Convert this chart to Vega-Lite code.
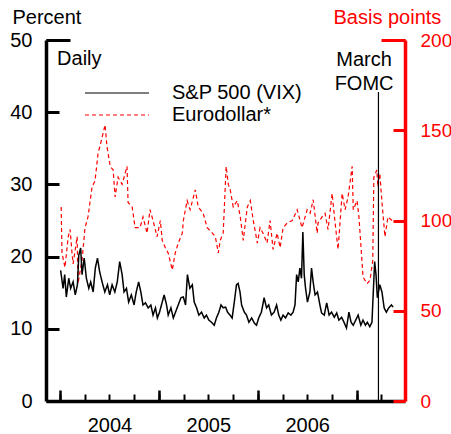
{
  "$schema": "https://vega.github.io/schema/vega-lite/v6.json",
  "width": 359,
  "height": 361,
  "autosize": {"type": "none"},
  "padding": {"left": 46, "top": 40, "right": 46, "bottom": 33},
  "config": {
    "view": {"stroke": null},
    "font": "Liberation Sans",
    "axis": {"grid": false, "labelFont": "Liberation Sans", "labelFontSize": 20, "titleFont": "Liberation Sans", "titleFontSize": 20, "titleFontWeight": "normal"},
    "legend": {"labelFont": "Liberation Sans"}
  },
  "datasets": {
    "series": [
      {"d": "2004-01-05", "s": "Eurodollar*", "v": 107.5},
      {"d": "2004-01-08", "s": "Eurodollar*", "v": 82},
      {"d": "2004-01-19", "s": "Eurodollar*", "v": 74},
      {"d": "2004-01-31", "s": "Eurodollar*", "v": 91},
      {"d": "2004-02-07", "s": "Eurodollar*", "v": 95},
      {"d": "2004-02-14", "s": "Eurodollar*", "v": 82},
      {"d": "2004-02-18", "s": "Eurodollar*", "v": 76},
      {"d": "2004-03-04", "s": "Eurodollar*", "v": 91},
      {"d": "2004-03-07", "s": "Eurodollar*", "v": 65},
      {"d": "2004-03-22", "s": "Eurodollar*", "v": 78},
      {"d": "2004-04-02", "s": "Eurodollar*", "v": 96},
      {"d": "2004-04-13", "s": "Eurodollar*", "v": 102},
      {"d": "2004-04-28", "s": "Eurodollar*", "v": 118.6},
      {"d": "2004-05-09", "s": "Eurodollar*", "v": 122},
      {"d": "2004-05-20", "s": "Eurodollar*", "v": 137},
      {"d": "2004-06-04", "s": "Eurodollar*", "v": 146},
      {"d": "2004-06-15", "s": "Eurodollar*", "v": 153},
      {"d": "2004-06-22", "s": "Eurodollar*", "v": 141},
      {"d": "2004-07-04", "s": "Eurodollar*", "v": 130},
      {"d": "2004-07-15", "s": "Eurodollar*", "v": 128},
      {"d": "2004-07-22", "s": "Eurodollar*", "v": 113},
      {"d": "2004-08-02", "s": "Eurodollar*", "v": 124},
      {"d": "2004-08-17", "s": "Eurodollar*", "v": 120},
      {"d": "2004-09-04", "s": "Eurodollar*", "v": 130},
      {"d": "2004-09-08", "s": "Eurodollar*", "v": 110},
      {"d": "2004-09-23", "s": "Eurodollar*", "v": 107.5},
      {"d": "2004-10-04", "s": "Eurodollar*", "v": 96},
      {"d": "2004-10-22", "s": "Eurodollar*", "v": 96},
      {"d": "2004-11-02", "s": "Eurodollar*", "v": 102},
      {"d": "2004-11-17", "s": "Eurodollar*", "v": 93},
      {"d": "2004-11-28", "s": "Eurodollar*", "v": 106},
      {"d": "2004-12-09", "s": "Eurodollar*", "v": 100},
      {"d": "2004-12-24", "s": "Eurodollar*", "v": 91},
      {"d": "2005-01-05", "s": "Eurodollar*", "v": 100},
      {"d": "2005-01-12", "s": "Eurodollar*", "v": 89},
      {"d": "2005-01-23", "s": "Eurodollar*", "v": 85},
      {"d": "2005-02-03", "s": "Eurodollar*", "v": 82},
      {"d": "2005-02-18", "s": "Eurodollar*", "v": 72.6},
      {"d": "2005-03-01", "s": "Eurodollar*", "v": 82},
      {"d": "2005-03-12", "s": "Eurodollar*", "v": 87.5},
      {"d": "2005-03-27", "s": "Eurodollar*", "v": 93},
      {"d": "2005-03-31", "s": "Eurodollar*", "v": 100},
      {"d": "2005-04-14", "s": "Eurodollar*", "v": 111},
      {"d": "2005-04-25", "s": "Eurodollar*", "v": 106},
      {"d": "2005-05-14", "s": "Eurodollar*", "v": 117},
      {"d": "2005-05-25", "s": "Eurodollar*", "v": 107.5},
      {"d": "2005-06-12", "s": "Eurodollar*", "v": 104},
      {"d": "2005-06-27", "s": "Eurodollar*", "v": 96},
      {"d": "2005-07-16", "s": "Eurodollar*", "v": 93},
      {"d": "2005-07-27", "s": "Eurodollar*", "v": 91},
      {"d": "2005-08-07", "s": "Eurodollar*", "v": 82},
      {"d": "2005-08-14", "s": "Eurodollar*", "v": 89},
      {"d": "2005-08-25", "s": "Eurodollar*", "v": 93},
      {"d": "2005-09-05", "s": "Eurodollar*", "v": 130},
      {"d": "2005-09-13", "s": "Eurodollar*", "v": 120},
      {"d": "2005-09-20", "s": "Eurodollar*", "v": 117},
      {"d": "2005-10-01", "s": "Eurodollar*", "v": 107.5},
      {"d": "2005-10-16", "s": "Eurodollar*", "v": 111},
      {"d": "2005-10-27", "s": "Eurodollar*", "v": 102},
      {"d": "2005-11-07", "s": "Eurodollar*", "v": 89},
      {"d": "2005-11-22", "s": "Eurodollar*", "v": 107.5},
      {"d": "2005-12-03", "s": "Eurodollar*", "v": 111},
      {"d": "2005-12-14", "s": "Eurodollar*", "v": 100},
      {"d": "2005-12-29", "s": "Eurodollar*", "v": 87.5},
      {"d": "2006-01-08", "s": "Eurodollar*", "v": 96},
      {"d": "2006-01-19", "s": "Eurodollar*", "v": 93},
      {"d": "2006-02-03", "s": "Eurodollar*", "v": 87.5},
      {"d": "2006-02-14", "s": "Eurodollar*", "v": 100},
      {"d": "2006-02-25", "s": "Eurodollar*", "v": 84},
      {"d": "2006-03-12", "s": "Eurodollar*", "v": 93},
      {"d": "2006-03-23", "s": "Eurodollar*", "v": 85},
      {"d": "2006-04-03", "s": "Eurodollar*", "v": 96},
      {"d": "2006-04-18", "s": "Eurodollar*", "v": 98.6},
      {"d": "2006-05-07", "s": "Eurodollar*", "v": 100},
      {"d": "2006-05-25", "s": "Eurodollar*", "v": 106},
      {"d": "2006-06-12", "s": "Eurodollar*", "v": 96},
      {"d": "2006-07-01", "s": "Eurodollar*", "v": 106},
      {"d": "2006-07-12", "s": "Eurodollar*", "v": 104},
      {"d": "2006-07-23", "s": "Eurodollar*", "v": 111.5},
      {"d": "2006-08-07", "s": "Eurodollar*", "v": 93},
      {"d": "2006-08-10", "s": "Eurodollar*", "v": 98.6},
      {"d": "2006-08-25", "s": "Eurodollar*", "v": 102},
      {"d": "2006-09-05", "s": "Eurodollar*", "v": 104},
      {"d": "2006-09-16", "s": "Eurodollar*", "v": 95},
      {"d": "2006-10-01", "s": "Eurodollar*", "v": 115},
      {"d": "2006-10-12", "s": "Eurodollar*", "v": 98.6},
      {"d": "2006-10-23", "s": "Eurodollar*", "v": 84},
      {"d": "2006-11-07", "s": "Eurodollar*", "v": 115},
      {"d": "2006-11-18", "s": "Eurodollar*", "v": 106},
      {"d": "2006-11-29", "s": "Eurodollar*", "v": 113},
      {"d": "2006-12-14", "s": "Eurodollar*", "v": 130},
      {"d": "2006-12-18", "s": "Eurodollar*", "v": 106},
      {"d": "2007-01-01", "s": "Eurodollar*", "v": 111},
      {"d": "2007-01-08", "s": "Eurodollar*", "v": 102},
      {"d": "2007-01-19", "s": "Eurodollar*", "v": 78},
      {"d": "2007-01-23", "s": "Eurodollar*", "v": 68.7},
      {"d": "2007-02-07", "s": "Eurodollar*", "v": 65},
      {"d": "2007-02-18", "s": "Eurodollar*", "v": 67},
      {"d": "2007-02-28", "s": "Eurodollar*", "v": 78},
      {"d": "2007-03-04", "s": "Eurodollar*", "v": 124},
      {"d": "2007-03-15", "s": "Eurodollar*", "v": 128},
      {"d": "2007-03-19", "s": "Eurodollar*", "v": 118.6},
      {"d": "2007-03-26", "s": "Eurodollar*", "v": 126},
      {"d": "2007-04-03", "s": "Eurodollar*", "v": 110},
      {"d": "2007-04-14", "s": "Eurodollar*", "v": 91},
      {"d": "2007-04-25", "s": "Eurodollar*", "v": 102},
      {"d": "2007-05-10", "s": "Eurodollar*", "v": 100},
      {"d": "2004-01-03", "s": "S&P 500 (VIX)", "v": 18.1},
      {"d": "2004-01-12", "s": "S&P 500 (VIX)", "v": 15.6},
      {"d": "2004-01-18", "s": "S&P 500 (VIX)", "v": 17.5},
      {"d": "2004-01-24", "s": "S&P 500 (VIX)", "v": 14.4},
      {"d": "2004-02-02", "s": "S&P 500 (VIX)", "v": 17.0},
      {"d": "2004-02-09", "s": "S&P 500 (VIX)", "v": 15.6},
      {"d": "2004-02-18", "s": "S&P 500 (VIX)", "v": 16.5},
      {"d": "2004-02-26", "s": "S&P 500 (VIX)", "v": 14.7},
      {"d": "2004-03-05", "s": "S&P 500 (VIX)", "v": 16.1},
      {"d": "2004-03-10", "s": "S&P 500 (VIX)", "v": 20.2},
      {"d": "2004-03-17", "s": "S&P 500 (VIX)", "v": 21.2},
      {"d": "2004-03-22", "s": "S&P 500 (VIX)", "v": 17.5},
      {"d": "2004-03-30", "s": "S&P 500 (VIX)", "v": 19.8},
      {"d": "2004-04-07", "s": "S&P 500 (VIX)", "v": 17.0},
      {"d": "2004-04-16", "s": "S&P 500 (VIX)", "v": 15.6},
      {"d": "2004-04-23", "s": "S&P 500 (VIX)", "v": 16.5},
      {"d": "2004-05-02", "s": "S&P 500 (VIX)", "v": 15.1},
      {"d": "2004-05-10", "s": "S&P 500 (VIX)", "v": 18.4},
      {"d": "2004-05-18", "s": "S&P 500 (VIX)", "v": 19.8},
      {"d": "2004-05-26", "s": "S&P 500 (VIX)", "v": 17.9},
      {"d": "2004-06-04", "s": "S&P 500 (VIX)", "v": 16.5},
      {"d": "2004-06-14", "s": "S&P 500 (VIX)", "v": 15.1},
      {"d": "2004-06-24", "s": "S&P 500 (VIX)", "v": 16.1},
      {"d": "2004-07-02", "s": "S&P 500 (VIX)", "v": 14.7},
      {"d": "2004-07-11", "s": "S&P 500 (VIX)", "v": 16.1},
      {"d": "2004-07-21", "s": "S&P 500 (VIX)", "v": 15.1},
      {"d": "2004-07-30", "s": "S&P 500 (VIX)", "v": 16.5},
      {"d": "2004-08-08", "s": "S&P 500 (VIX)", "v": 19.3},
      {"d": "2004-08-17", "s": "S&P 500 (VIX)", "v": 17.5},
      {"d": "2004-08-24", "s": "S&P 500 (VIX)", "v": 15.1},
      {"d": "2004-09-02", "s": "S&P 500 (VIX)", "v": 15.6},
      {"d": "2004-09-10", "s": "S&P 500 (VIX)", "v": 13.7},
      {"d": "2004-09-20", "s": "S&P 500 (VIX)", "v": 14.7},
      {"d": "2004-09-30", "s": "S&P 500 (VIX)", "v": 13.3},
      {"d": "2004-10-08", "s": "S&P 500 (VIX)", "v": 15.1},
      {"d": "2004-10-17", "s": "S&P 500 (VIX)", "v": 16.5},
      {"d": "2004-10-25", "s": "S&P 500 (VIX)", "v": 15.1},
      {"d": "2004-11-02", "s": "S&P 500 (VIX)", "v": 13.3},
      {"d": "2004-11-11", "s": "S&P 500 (VIX)", "v": 13.6},
      {"d": "2004-11-21", "s": "S&P 500 (VIX)", "v": 12.9},
      {"d": "2004-12-01", "s": "S&P 500 (VIX)", "v": 13.3},
      {"d": "2004-12-09", "s": "S&P 500 (VIX)", "v": 11.9},
      {"d": "2004-12-18", "s": "S&P 500 (VIX)", "v": 12.9},
      {"d": "2004-12-25", "s": "S&P 500 (VIX)", "v": 11.5},
      {"d": "2005-01-02", "s": "S&P 500 (VIX)", "v": 12.3},
      {"d": "2005-01-12", "s": "S&P 500 (VIX)", "v": 13.7},
      {"d": "2005-01-19", "s": "S&P 500 (VIX)", "v": 14.7},
      {"d": "2005-01-28", "s": "S&P 500 (VIX)", "v": 13.3},
      {"d": "2005-02-03", "s": "S&P 500 (VIX)", "v": 11.9},
      {"d": "2005-02-13", "s": "S&P 500 (VIX)", "v": 12.9},
      {"d": "2005-02-22", "s": "S&P 500 (VIX)", "v": 11.5},
      {"d": "2005-03-02", "s": "S&P 500 (VIX)", "v": 12.3},
      {"d": "2005-03-12", "s": "S&P 500 (VIX)", "v": 13.3},
      {"d": "2005-03-22", "s": "S&P 500 (VIX)", "v": 14.3},
      {"d": "2005-03-31", "s": "S&P 500 (VIX)", "v": 14.4},
      {"d": "2005-04-08", "s": "S&P 500 (VIX)", "v": 13.3},
      {"d": "2005-04-15", "s": "S&P 500 (VIX)", "v": 17.5},
      {"d": "2005-04-24", "s": "S&P 500 (VIX)", "v": 15.6},
      {"d": "2005-05-03", "s": "S&P 500 (VIX)", "v": 16.1},
      {"d": "2005-05-10", "s": "S&P 500 (VIX)", "v": 13.7},
      {"d": "2005-05-19", "s": "S&P 500 (VIX)", "v": 12.9},
      {"d": "2005-05-27", "s": "S&P 500 (VIX)", "v": 11.9},
      {"d": "2005-06-06", "s": "S&P 500 (VIX)", "v": 12.3},
      {"d": "2005-06-16", "s": "S&P 500 (VIX)", "v": 11.5},
      {"d": "2005-06-24", "s": "S&P 500 (VIX)", "v": 11.9},
      {"d": "2005-07-03", "s": "S&P 500 (VIX)", "v": 11.2},
      {"d": "2005-07-13", "s": "S&P 500 (VIX)", "v": 10.9},
      {"d": "2005-07-23", "s": "S&P 500 (VIX)", "v": 10.5},
      {"d": "2005-07-31", "s": "S&P 500 (VIX)", "v": 11.5},
      {"d": "2005-08-09", "s": "S&P 500 (VIX)", "v": 12.3},
      {"d": "2005-08-17", "s": "S&P 500 (VIX)", "v": 13.3},
      {"d": "2005-08-25", "s": "S&P 500 (VIX)", "v": 12.9},
      {"d": "2005-09-03", "s": "S&P 500 (VIX)", "v": 13.0},
      {"d": "2005-09-10", "s": "S&P 500 (VIX)", "v": 12.3},
      {"d": "2005-09-19", "s": "S&P 500 (VIX)", "v": 11.9},
      {"d": "2005-09-27", "s": "S&P 500 (VIX)", "v": 11.5},
      {"d": "2005-10-05", "s": "S&P 500 (VIX)", "v": 13.7},
      {"d": "2005-10-13", "s": "S&P 500 (VIX)", "v": 16.1},
      {"d": "2005-10-19", "s": "S&P 500 (VIX)", "v": 16.3},
      {"d": "2005-10-26", "s": "S&P 500 (VIX)", "v": 15.1},
      {"d": "2005-11-01", "s": "S&P 500 (VIX)", "v": 13.3},
      {"d": "2005-11-11", "s": "S&P 500 (VIX)", "v": 12.3},
      {"d": "2005-11-19", "s": "S&P 500 (VIX)", "v": 11.9},
      {"d": "2005-11-28", "s": "S&P 500 (VIX)", "v": 10.9},
      {"d": "2005-12-08", "s": "S&P 500 (VIX)", "v": 11.5},
      {"d": "2005-12-18", "s": "S&P 500 (VIX)", "v": 10.8},
      {"d": "2005-12-26", "s": "S&P 500 (VIX)", "v": 10.5},
      {"d": "2006-01-03", "s": "S&P 500 (VIX)", "v": 11.5},
      {"d": "2006-01-13", "s": "S&P 500 (VIX)", "v": 12.3},
      {"d": "2006-01-23", "s": "S&P 500 (VIX)", "v": 14.3},
      {"d": "2006-02-01", "s": "S&P 500 (VIX)", "v": 12.9},
      {"d": "2006-02-09", "s": "S&P 500 (VIX)", "v": 13.3},
      {"d": "2006-02-19", "s": "S&P 500 (VIX)", "v": 11.9},
      {"d": "2006-03-01", "s": "S&P 500 (VIX)", "v": 12.3},
      {"d": "2006-03-10", "s": "S&P 500 (VIX)", "v": 13.3},
      {"d": "2006-03-18", "s": "S&P 500 (VIX)", "v": 11.9},
      {"d": "2006-03-26", "s": "S&P 500 (VIX)", "v": 11.2},
      {"d": "2006-04-03", "s": "S&P 500 (VIX)", "v": 11.9},
      {"d": "2006-04-12", "s": "S&P 500 (VIX)", "v": 11.5},
      {"d": "2006-04-22", "s": "S&P 500 (VIX)", "v": 12.2},
      {"d": "2006-05-02", "s": "S&P 500 (VIX)", "v": 11.9},
      {"d": "2006-05-10", "s": "S&P 500 (VIX)", "v": 12.3},
      {"d": "2006-05-17", "s": "S&P 500 (VIX)", "v": 13.3},
      {"d": "2006-05-23", "s": "S&P 500 (VIX)", "v": 17.5},
      {"d": "2006-05-29", "s": "S&P 500 (VIX)", "v": 16.5},
      {"d": "2006-06-04", "s": "S&P 500 (VIX)", "v": 18.4},
      {"d": "2006-06-10", "s": "S&P 500 (VIX)", "v": 17.0},
      {"d": "2006-06-15", "s": "S&P 500 (VIX)", "v": 23.4},
      {"d": "2006-06-20", "s": "S&P 500 (VIX)", "v": 17.5},
      {"d": "2006-06-25", "s": "S&P 500 (VIX)", "v": 15.6},
      {"d": "2006-07-02", "s": "S&P 500 (VIX)", "v": 13.7},
      {"d": "2006-07-11", "s": "S&P 500 (VIX)", "v": 15.1},
      {"d": "2006-07-17", "s": "S&P 500 (VIX)", "v": 18.4},
      {"d": "2006-07-23", "s": "S&P 500 (VIX)", "v": 16.5},
      {"d": "2006-07-30", "s": "S&P 500 (VIX)", "v": 14.7},
      {"d": "2006-08-08", "s": "S&P 500 (VIX)", "v": 15.1},
      {"d": "2006-08-17", "s": "S&P 500 (VIX)", "v": 13.3},
      {"d": "2006-08-23", "s": "S&P 500 (VIX)", "v": 12.2},
      {"d": "2006-09-02", "s": "S&P 500 (VIX)", "v": 11.9},
      {"d": "2006-09-11", "s": "S&P 500 (VIX)", "v": 13.6},
      {"d": "2006-09-20", "s": "S&P 500 (VIX)", "v": 11.9},
      {"d": "2006-09-29", "s": "S&P 500 (VIX)", "v": 12.3},
      {"d": "2006-10-09", "s": "S&P 500 (VIX)", "v": 11.6},
      {"d": "2006-10-18", "s": "S&P 500 (VIX)", "v": 12.2},
      {"d": "2006-10-26", "s": "S&P 500 (VIX)", "v": 11.2},
      {"d": "2006-11-05", "s": "S&P 500 (VIX)", "v": 11.6},
      {"d": "2006-11-14", "s": "S&P 500 (VIX)", "v": 10.9},
      {"d": "2006-11-23", "s": "S&P 500 (VIX)", "v": 10.1},
      {"d": "2006-12-02", "s": "S&P 500 (VIX)", "v": 12.3},
      {"d": "2006-12-10", "s": "S&P 500 (VIX)", "v": 10.9},
      {"d": "2006-12-18", "s": "S&P 500 (VIX)", "v": 10.5},
      {"d": "2006-12-27", "s": "S&P 500 (VIX)", "v": 11.2},
      {"d": "2007-01-05", "s": "S&P 500 (VIX)", "v": 11.9},
      {"d": "2007-01-15", "s": "S&P 500 (VIX)", "v": 10.5},
      {"d": "2007-01-23", "s": "S&P 500 (VIX)", "v": 11.2},
      {"d": "2007-02-01", "s": "S&P 500 (VIX)", "v": 10.5},
      {"d": "2007-02-08", "s": "S&P 500 (VIX)", "v": 10.9},
      {"d": "2007-02-17", "s": "S&P 500 (VIX)", "v": 10.3},
      {"d": "2007-02-25", "s": "S&P 500 (VIX)", "v": 10.9},
      {"d": "2007-03-02", "s": "S&P 500 (VIX)", "v": 15.1},
      {"d": "2007-03-07", "s": "S&P 500 (VIX)", "v": 19.3},
      {"d": "2007-03-12", "s": "S&P 500 (VIX)", "v": 17.5},
      {"d": "2007-03-17", "s": "S&P 500 (VIX)", "v": 14.3},
      {"d": "2007-03-26", "s": "S&P 500 (VIX)", "v": 16.1},
      {"d": "2007-04-03", "s": "S&P 500 (VIX)", "v": 15.1},
      {"d": "2007-04-11", "s": "S&P 500 (VIX)", "v": 12.9},
      {"d": "2007-04-19", "s": "S&P 500 (VIX)", "v": 12.3},
      {"d": "2007-04-28", "s": "S&P 500 (VIX)", "v": 12.9},
      {"d": "2007-05-08", "s": "S&P 500 (VIX)", "v": 13.3},
      {"d": "2007-05-14", "s": "S&P 500 (VIX)", "v": 13.0}
    ],
    "events": [{"d": "2007-03-21", "event": "March FOMC"}],
    "daily": [{"d": "2003-12-21", "t": "Daily"}]
  },
  "layer": [
    {
      "data": {"name": "series"},
      "transform": [{"filter": "datum.s == 'Eurodollar*'"}],
      "mark": {"type": "line", "strokeWidth": 1.2},
      "encoding": {
        "x": {"field": "d", "type": "temporal",
          "scale": {"type": "utc", "domain": [{"year": 2003, "month": 11, "date": 10, "utc": true}, {"year": 2007, "month": 6, "date": 27, "utc": true}]},
          "axis": {"orient": "bottom", "title": null, "labels": false, "domain": false, "tickSize": -11, "tickWidth": 2.5, "tickColor": "black",
            "values": [{"year": 2004, "month": 1, "date": 1, "utc": true}, {"year": 2005, "month": 1, "date": 1, "utc": true}, {"year": 2006, "month": 1, "date": 1, "utc": true}, {"year": 2007, "month": 1, "date": 1, "utc": true}]}},
        "y": {"field": "v", "type": "quantitative", "scale": {"domain": [0, 200]},
          "axis": {"orient": "right", "values": [0, 50, 100, 150, 200], "tickSize": -12, "tickWidth": 3, "tickColor": "red", "domainColor": "red", "domainWidth": 3.5, "labelColor": "red", "labelPadding": 27, "labelFontSize": 19,
            "title": "Basis points", "titleColor": "red", "titleAngle": 0, "titleAlign": "left", "titleBaseline": "alphabetic", "titleX": -72, "titleY": -17}},
        "color": {"field": "s", "type": "nominal", "scale": {"domain": ["S&P 500 (VIX)", "Eurodollar*"], "range": ["black", "red"]},
          "legend": {"orient": "none", "legendX": 38, "legendY": 43, "title": null, "symbolType": "stroke", "symbolSize": 4096, "symbolStrokeWidth": 1.2, "labelFontSize": 20, "labelOffset": 22, "rowPadding": 2, "padding": 0, "clipHeight": 20}},
        "strokeDash": {"field": "s", "type": "nominal", "scale": {"domain": ["S&P 500 (VIX)", "Eurodollar*"], "range": [[1, 0], [4, 3]]}, "legend": {"orient": "none", "legendX": 38, "legendY": 43, "title": null, "clipHeight": 20}}
      }
    },
    {
      "data": {"name": "series"},
      "transform": [{"filter": "datum.s == 'S&P 500 (VIX)'"}],
      "mark": {"type": "line", "strokeWidth": 1.5},
      "encoding": {
        "x": {"field": "d", "type": "temporal",
          "scale": {"type": "utc", "domain": [{"year": 2003, "month": 11, "date": 10, "utc": true}, {"year": 2007, "month": 6, "date": 27, "utc": true}]},
          "axis": {"orient": "bottom", "title": null, "domainColor": "black", "domainWidth": 3.5, "tickSize": -7, "tickWidth": 2, "tickColor": "black", "labelPadding": 21, "labelOverlap": false, "labelFlush": false, "labelColor": "black",
            "labelExpr": "utcmonth(datum.value) == 6 ? utcFormat(datum.value, '%Y') : ''",
            "values": [{"year": 2004, "month": 1, "date": 1, "utc": true}, {"year": 2004, "month": 4, "date": 1, "utc": true}, {"year": 2004, "month": 7, "date": 1, "utc": true}, {"year": 2004, "month": 10, "date": 1, "utc": true},
              {"year": 2005, "month": 1, "date": 1, "utc": true}, {"year": 2005, "month": 4, "date": 1, "utc": true}, {"year": 2005, "month": 7, "date": 1, "utc": true}, {"year": 2005, "month": 10, "date": 1, "utc": true},
              {"year": 2006, "month": 1, "date": 1, "utc": true}, {"year": 2006, "month": 4, "date": 1, "utc": true}, {"year": 2006, "month": 7, "date": 1, "utc": true}, {"year": 2006, "month": 10, "date": 1, "utc": true},
              {"year": 2007, "month": 1, "date": 1, "utc": true}, {"year": 2007, "month": 4, "date": 1, "utc": true}]}},
        "y": {"field": "v", "type": "quantitative", "scale": {"domain": [0, 50]},
          "axis": {"orient": "left", "values": [0, 10, 20, 30, 40, 50], "tickSize": -13, "tickWidth": 3, "tickColor": "black", "domainColor": "black", "domainWidth": 3.5, "labelColor": "black", "labelPadding": 27,
            "title": "Percent", "titleColor": "black", "titleAngle": 0, "titleAlign": "left", "titleBaseline": "alphabetic", "titleX": -34, "titleY": -17}},
        "color": {"field": "s", "type": "nominal", "scale": {"domain": ["S&P 500 (VIX)", "Eurodollar*"], "range": ["black", "red"]}},
        "strokeDash": {"field": "s", "type": "nominal", "scale": {"domain": ["S&P 500 (VIX)", "Eurodollar*"], "range": [[1, 0], [4, 3]]}}
      }
    },
    {
      "data": {"name": "events"},
      "mark": {"type": "rule", "color": "black", "strokeWidth": 1.2},
      "encoding": {
        "x": {"field": "d", "type": "temporal", "scale": {"type": "utc", "domain": [{"year": 2003, "month": 11, "date": 10, "utc": true}, {"year": 2007, "month": 6, "date": 27, "utc": true}]}, "axis": null},
        "y": {"datum": 0, "type": "quantitative", "scale": {"domain": [0, 50]}, "axis": null},
        "y2": {"datum": 42.8}
      }
    },
    {
      "data": {"name": "events"},
      "mark": {"type": "text", "align": "center", "baseline": "alphabetic", "fontSize": 20, "lineHeight": 24, "color": "black", "font": "Liberation Sans"},
      "encoding": {
        "text": {"value": ["March", "FOMC"]},
        "x": {"datum": {"year": 2007, "month": 1, "date": 27, "utc": true}, "type": "temporal", "scale": {"type": "utc", "domain": [{"year": 2003, "month": 11, "date": 10, "utc": true}, {"year": 2007, "month": 6, "date": 27, "utc": true}]}, "axis": null},
        "y": {"datum": 46.4, "type": "quantitative", "scale": {"domain": [0, 50]},
          "axis": {"orient": "right", "values": [50], "labels": false, "domain": false, "title": null, "tickSize": -24, "tickWidth": 3, "tickColor": "red"}}
      }
    },
    {
      "data": {"name": "daily"},
      "mark": {"type": "text", "align": "left", "baseline": "alphabetic", "fontSize": 20, "color": "black", "font": "Liberation Sans"},
      "encoding": {
        "text": {"field": "t"},
        "x": {"field": "d", "type": "temporal", "scale": {"type": "utc", "domain": [{"year": 2003, "month": 11, "date": 10, "utc": true}, {"year": 2007, "month": 6, "date": 27, "utc": true}]}, "axis": null},
        "y": {"datum": 46.5, "type": "quantitative", "scale": {"domain": [0, 50]},
          "axis": {"orient": "left", "values": [50], "labels": false, "domain": false, "title": null, "tickSize": -24, "tickWidth": 3, "tickColor": "black"}}
      }
    }
  ],
  "resolve": {"scale": {"y": "independent"}, "axis": {"x": "independent", "y": "independent"}}
}
